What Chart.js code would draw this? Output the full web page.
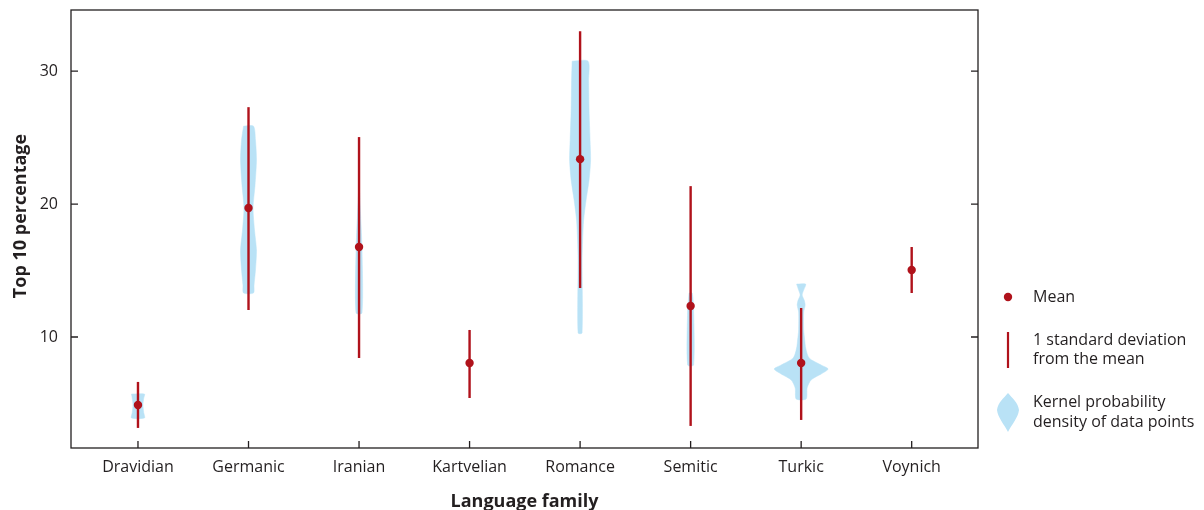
<!DOCTYPE html>
<html>
<head>
<meta charset="utf-8">
<script src="https://cdn.jsdelivr.net/npm/chart.js@4"></script>
<style>
  html, body { margin: 0; padding: 0; background: #fff; }
  #wrap { width: 1204px; height: 510px; position: relative; }
</style>
</head>
<body>
<div id="wrap"><canvas id="violinChart" width="1204" height="510"></canvas></div>
<script>
const categories = ['Dravidian', 'Germanic', 'Iranian', 'Kartvelian', 'Romance', 'Semitic', 'Turkic', 'Voynich'];
const means  = [4.89, 19.70, 16.77, 8.05, 23.38, 12.33, 8.05, 15.04];
const sdLow  = [3.16, 12.03, 8.42, 5.41, 13.68, 3.31, 3.76, 13.31];
const sdHigh = [6.62, 27.29, 25.04, 10.53, 33.0, 21.35, 12.18, 16.77];
const yTicks = [10, 20, 30];

// kernel density outline per family: levels (percentage) and half width (category units)
const violinLevels = [
    [5.71, 5.4, 4.9, 4.3, 3.91],
    [25.86, 24.81, 23.31, 21.43, 19.70, 18.05, 16.54, 15.04, 13.91, 13.31],
    [21.8, 19.17, 16.54, 11.8],
    [],
    [30.75, 29.32, 27.07, 24.81, 23.31, 21.80, 20.30, 18.80, 17.29, 15.79, 10.30],
    [13.31, 12.03, 7.89],
    [13.98, 13.53, 13.16, 12.78, 12.41, 11.88, 10.53, 9.77, 9.17, 8.42, 7.89, 7.59, 7.22, 6.77, 6.17, 5.34],
    []
];
const violinHalf = [
    [0.059, 0.052, 0.045, 0.052, 0.059],
    [0.045, 0.063, 0.072, 0.059, 0.041, 0.054, 0.072, 0.063, 0.050, 0.045],
    [0.0, 0.014, 0.027, 0.027],
    [],
    [0.072, 0.077, 0.081, 0.090, 0.095, 0.081, 0.054, 0.032, 0.023, 0.018, 0.018],
    [0.014, 0.027, 0.027],
    [0.041, 0.023, 0.009, 0.027, 0.036, 0.023, 0.023, 0.032, 0.041, 0.072, 0.181, 0.244, 0.181, 0.090, 0.054, 0.045],
    []
];

const RED = '#b0121b';
const BLUE = '#b9e2f6';
const INK = '#231f20';
const FONT = '"Open Sans", "DejaVu Sans", sans-serif';

const datasets = [];

datasets.push({
    label: 'Mean',
    data: means.map((m, i) => ({ x: i, y: m })),
    showLine: false,
    pointRadius: 4.2,
    pointBackgroundColor: RED,
    pointBorderWidth: 0,
    order: 0
});

categories.forEach((c, i) => {
    datasets.push({
        label: 'sd ' + c,
        data: [{ x: i, y: sdLow[i] }, { x: i, y: sdHigh[i] }],
        showLine: true,
        borderColor: RED,
        borderWidth: 2.4,
        pointRadius: 0,
        order: 1
    });
});

categories.forEach((c, i) => {
    const lv = violinLevels[i];
    if (!lv.length) return;
    const hw = violinHalf[i];
    const pts = [];
    lv.forEach((y, k) => pts.push({ x: i - hw[k], y: y }));
    for (let k = lv.length - 1; k >= 0; k--) pts.push({ x: i + hw[k], y: lv[k] });
    pts.push(pts[0]);
    datasets.push({
        label: 'kde ' + c,
        data: pts,
        showLine: true,
        fill: 'shape',
        backgroundColor: BLUE,
        borderColor: BLUE,
        borderWidth: 0.5,
        pointRadius: 0,
        tension: 0.25,
        order: 2
    });
});

// frame, inward ticks, axis titles and legend
const decor = {
    id: 'decor',
    afterDraw(chart) {
        const ctx = chart.ctx;
        const a = chart.chartArea;
        const xs = chart.scales.x, ys = chart.scales.y;
        ctx.save();
        ctx.strokeStyle = INK;
        ctx.lineWidth = 1.3;
        ctx.strokeRect(a.left, a.top, a.right - a.left, a.bottom - a.top);
        ctx.beginPath();
        yTicks.forEach(t => {
            const py = ys.getPixelForValue(t);
            ctx.moveTo(a.left, py); ctx.lineTo(a.left + 7, py);
            ctx.moveTo(a.right, py); ctx.lineTo(a.right - 7, py);
        });
        categories.forEach((c, i) => {
            const px = xs.getPixelForValue(i);
            ctx.moveTo(px, a.bottom); ctx.lineTo(px, a.bottom - 7);
        });
        ctx.stroke();

        // axis titles
        ctx.fillStyle = INK;
        ctx.font = 'bold 18px ' + FONT;
        ctx.textAlign = 'center';
        ctx.textBaseline = 'middle';
        ctx.fillText('Language family', (a.left + a.right) / 2, 502);
        ctx.save();
        ctx.translate(21, 216);
        ctx.rotate(-Math.PI / 2);
        ctx.fillText('Top 10 percentage', 0, 0);
        ctx.restore();

        // legend
        ctx.font = '16px ' + FONT;
        ctx.textAlign = 'left';
        ctx.fillStyle = RED;
        ctx.beginPath();
        ctx.arc(1008, 297, 4.2, 0, Math.PI * 2);
        ctx.fill();
        ctx.strokeStyle = RED;
        ctx.lineWidth = 2.2;
        ctx.beginPath();
        ctx.moveTo(1008, 332); ctx.lineTo(1008, 368);
        ctx.stroke();
        ctx.fillStyle = BLUE;
        ctx.beginPath();
        ctx.moveTo(1008, 393);
        ctx.bezierCurveTo(1012, 398, 1018, 402, 1019, 410);
        ctx.bezierCurveTo(1018, 418, 1012, 424, 1008, 432);
        ctx.bezierCurveTo(1004, 424, 998, 418, 997, 410);
        ctx.bezierCurveTo(998, 402, 1004, 398, 1008, 393);
        ctx.fill();
        ctx.fillStyle = INK;
        ctx.fillText('Mean', 1033, 297);
        ctx.fillText('1 standard deviation', 1033, 340);
        ctx.fillText('from the mean', 1033, 359);
        ctx.fillText('Kernel probability', 1033, 402);
        ctx.fillText('density of data points', 1033, 422);
        ctx.restore();
    }
};

new Chart(document.getElementById('violinChart'), {
    type: 'scatter',
    data: { datasets },
    options: {
        responsive: false,
        animation: false,
        layout: { autoPadding: false, padding: { left: 0, top: 10, right: 226, bottom: 0 } },
        plugins: { legend: { display: false }, tooltip: { enabled: false } },
        scales: {
            x: {
                type: 'linear',
                min: -0.606,
                max: 7.60,
                afterFit: s => { s.height = 62; s.paddingLeft = 0; s.paddingRight = 0; },
                afterBuildTicks: s => { s.ticks = categories.map((c, i) => ({ value: i })); },
                grid: { display: false, drawTicks: false },
                border: { display: false },
                ticks: {
                    padding: 10,
                    color: INK,
                    font: { family: FONT, size: 16 },
                    callback: v => categories[v]
                }
            },
            y: {
                min: 1.65,
                max: 34.6,
                afterFit: s => { s.width = 71; s.paddingTop = 0; s.paddingBottom = 0; },
                afterBuildTicks: s => { s.ticks = yTicks.map(v => ({ value: v })); },
                grid: { display: false, drawTicks: false },
                border: { display: false },
                ticks: {
                    padding: 13,
                    color: INK,
                    font: { family: FONT, size: 16 }
                }
            }
        }
    },
    plugins: [decor]
});
</script>
</body>
</html>
